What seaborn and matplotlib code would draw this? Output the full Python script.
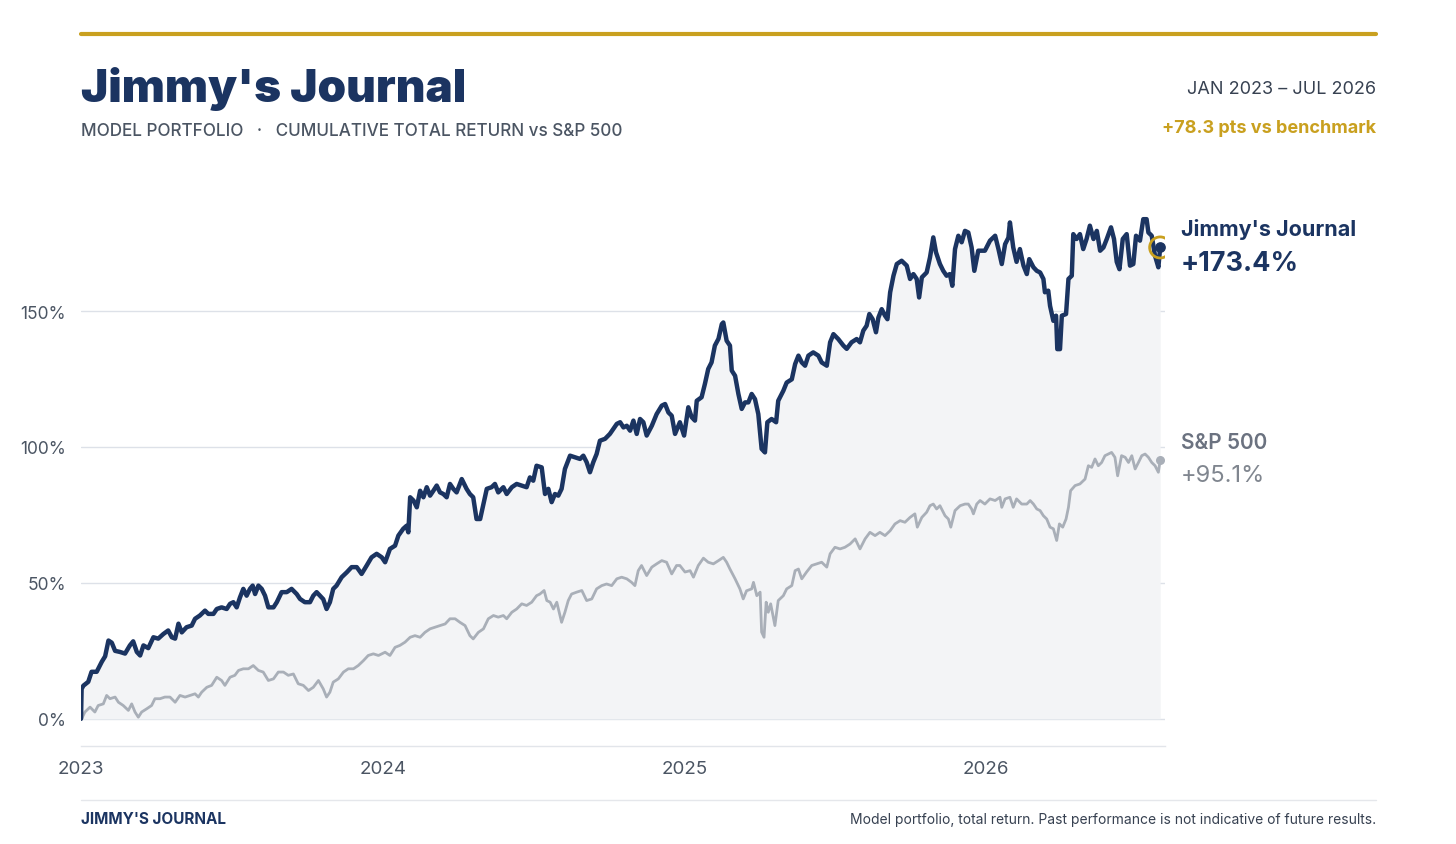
import numpy as np
import pandas as pd
import matplotlib
matplotlib.use("Agg")
import matplotlib.pyplot as plt
import seaborn as sns

# cumulative total return (%); time in years since 1 Jan 2023
jj_t = [0.000, 0.002, 0.008, 0.024, 0.035, 0.052, 0.069, 0.080, 0.091, 0.102, 0.113, 0.129, 0.146, 0.162,
        0.173, 0.185, 0.196, 0.207, 0.223, 0.240, 0.256, 0.273, 0.289, 0.301, 0.312, 0.323, 0.334, 0.350,
        0.367, 0.378, 0.394, 0.411, 0.422, 0.439, 0.450, 0.466, 0.483, 0.494, 0.505, 0.516, 0.527, 0.538,
        0.549, 0.560, 0.569, 0.577, 0.588, 0.599, 0.610, 0.621, 0.638, 0.649, 0.665, 0.682, 0.698, 0.715,
        0.726, 0.742, 0.759, 0.770, 0.781, 0.792, 0.803, 0.814, 0.825, 0.836, 0.847, 0.864, 0.881, 0.897,
        0.914, 0.930, 0.947, 0.963, 0.980, 0.997, 1.008, 1.024, 1.041, 1.052, 1.068, 1.079, 1.085, 1.091,
        1.102, 1.113, 1.124, 1.135, 1.146, 1.157, 1.168, 1.179, 1.190, 1.201, 1.212, 1.223, 1.234, 1.245,
        1.262, 1.278, 1.289, 1.300, 1.311, 1.323, 1.334, 1.345, 1.361, 1.372, 1.383, 1.400, 1.411, 1.428,
        1.444, 1.461, 1.477, 1.488, 1.499, 1.510, 1.527, 1.538, 1.549, 1.560, 1.571, 1.582, 1.593, 1.604,
        1.621, 1.637, 1.654, 1.665, 1.676, 1.687, 1.698, 1.709, 1.720, 1.737, 1.753, 1.764, 1.776, 1.787,
        1.798, 1.809, 1.820, 1.831, 1.842, 1.853, 1.864, 1.875, 1.892, 1.908, 1.925, 1.936, 1.947, 1.958,
        1.969, 1.985, 1.999, 2.013, 2.024, 2.035, 2.041, 2.057, 2.068, 2.079, 2.090, 2.101, 2.113, 2.124,
        2.129, 2.140, 2.151, 2.157, 2.168, 2.179, 2.190, 2.201, 2.212, 2.223, 2.234, 2.245, 2.256, 2.267,
        2.275, 2.289, 2.304, 2.311, 2.328, 2.339, 2.356, 2.367, 2.378, 2.389, 2.400, 2.411, 2.427, 2.444,
        2.455, 2.472, 2.483, 2.494, 2.510, 2.527, 2.538, 2.554, 2.571, 2.582, 2.593, 2.604, 2.613, 2.624,
        2.635, 2.643, 2.654, 2.665, 2.673, 2.682, 2.693, 2.704, 2.720, 2.737, 2.748, 2.759, 2.770, 2.778,
        2.787, 2.803, 2.814, 2.825, 2.834, 2.847, 2.858, 2.869, 2.880, 2.888, 2.897, 2.908, 2.919, 2.930,
        2.941, 2.952, 2.961, 2.974, 2.996, 3.013, 3.030, 3.041, 3.052, 3.063, 3.074, 3.079, 3.090, 3.101,
        3.112, 3.124, 3.135, 3.143, 3.157, 3.168, 3.179, 3.190, 3.195, 3.206, 3.212, 3.223, 3.232, 3.236,
        3.245, 3.251, 3.265, 3.273, 3.284, 3.289, 3.300, 3.311, 3.322, 3.333, 3.344, 3.356, 3.367, 3.378,
        3.389, 3.400, 3.414, 3.424, 3.433, 3.442, 3.453, 3.466, 3.477, 3.488, 3.497, 3.510, 3.521, 3.532,
        3.538, 3.549, 3.560, 3.571, 3.577]
jj_v = [0, 11, 12.2, 13.6, 17.3, 17.3, 21, 23, 28.8, 28, 25, 24.6, 24, 27,
        28.5, 24.6, 23.3, 27, 26, 30, 29.5, 31.2, 32.5, 30, 29.5, 35, 31.8, 33.7,
        34.3, 36.8, 38, 39.8, 38.6, 38.6, 40.4, 41, 40.4, 42.3, 42.9, 41, 44.7, 47.8,
        45.3, 47.8, 49, 45.9, 49, 47.8, 45.3, 41, 41, 42.9, 46.6, 46.6, 47.8, 45.9,
        44.1, 42.9, 42.9, 45.3, 46.6, 45.3, 44, 40.4, 42.9, 47.8, 49, 52.1, 53.9, 55.8,
        55.8, 53.3, 56.4, 59.4, 60.7, 59.4, 57.6, 62.5, 63.7, 67.4, 69.9, 71, 68.6, 81.5,
        80.3, 77.8, 83.9, 81.5, 85.2, 82.1, 83.9, 85.8, 83.3, 82.7, 81.5, 86.4, 84.6, 83.3,
        88.2, 84.6, 82.7, 81.5, 73.5, 73.5, 79, 84.6, 85.2, 86.4, 83.3, 85.2, 82.7, 85.2,
        86.4, 85.8, 85.2, 88.8, 87.6, 93.1, 92.5, 82.7, 84.6, 79.7, 82.7, 82.1, 84.6, 91.9,
        96.8, 96.2, 95.6, 96.8, 94.4, 90.7, 94.4, 97.4, 102.3, 103, 104.8, 106.6, 108.5, 109.1,
        107.2, 107.8, 106, 109.7, 104.8, 110.3, 109.1, 104.2, 107.8, 112.1, 115.2, 115.8, 112.7, 111.5,
        104.8, 109.1, 104.2, 114.6, 111, 109.7, 117, 118.3, 123.2, 128.7, 131.1, 137.3, 139.8, 145.2,
        145.8, 139.1, 137.3, 128.1, 126.2, 119.5, 114, 116.4, 116.4, 119.5, 117.6, 112.1, 99.3, 98,
        109.1, 110.3, 109.1, 117, 120.7, 123.7, 124.9, 130.5, 133.6, 131.1, 129.9, 133.6, 134.8, 133.6,
        131.1, 129.9, 138.5, 141.5, 139.7, 137.3, 136.1, 138.5, 139.7, 138.5, 142.8, 144.6, 148.9, 147,
        142.2, 147.6, 150.7, 148.3, 147, 156.9, 163, 167.3, 168.5, 166.7, 161.8, 163.6, 161.8, 155,
        162.4, 164.2, 169.7, 177.1, 171.6, 167.3, 164.8, 163, 163.6, 159.3, 172.8, 177.7, 175.3, 179.5,
        178.9, 173.4, 164.8, 172.2, 172.2, 175.9, 177.7, 172.8, 167.3, 174.6, 177, 182.6, 173.4, 168.1,
        172.8, 166.7, 163.6, 169.1, 166.1, 164.8, 164.2, 161.8, 156.9, 157.5, 151.9, 146.4, 148.3, 136,
        136, 148.3, 148.9, 161.8, 163, 178.3, 176.5, 178.3, 172.8, 176.5, 181.4, 176.5, 179.5, 172.2,
        173.4, 176.5, 180.8, 176.5, 168.1, 165.4, 176.5, 178.3, 166.7, 167.3, 177.7, 175.9, 183.8, 183.8,
        178.9, 177.7, 170.3, 166.1, 173.4]

sp_t = [0.000, 0.002, 0.013, 0.030, 0.046, 0.057, 0.074, 0.085, 0.096, 0.113, 0.124, 0.140, 0.157, 0.168,
        0.179, 0.190, 0.201, 0.218, 0.234, 0.245, 0.262, 0.278, 0.295, 0.312, 0.328, 0.345, 0.361, 0.378,
        0.389, 0.400, 0.417, 0.433, 0.450, 0.466, 0.477, 0.494, 0.510, 0.522, 0.538, 0.555, 0.571, 0.588,
        0.604, 0.621, 0.638, 0.654, 0.671, 0.687, 0.704, 0.720, 0.737, 0.754, 0.770, 0.787, 0.803, 0.814,
        0.825, 0.836, 0.853, 0.870, 0.886, 0.903, 0.919, 0.936, 0.952, 0.969, 0.986, 1.008, 1.024, 1.041,
        1.057, 1.074, 1.091, 1.107, 1.124, 1.140, 1.157, 1.173, 1.190, 1.207, 1.223, 1.240, 1.256, 1.273,
        1.289, 1.300, 1.317, 1.334, 1.350, 1.367, 1.383, 1.400, 1.411, 1.428, 1.444, 1.461, 1.477, 1.494,
        1.510, 1.521, 1.535, 1.544, 1.555, 1.566, 1.577, 1.593, 1.604, 1.615, 1.626, 1.643, 1.660, 1.676,
        1.693, 1.709, 1.726, 1.742, 1.759, 1.776, 1.792, 1.809, 1.825, 1.836, 1.847, 1.858, 1.875, 1.892,
        1.908, 1.925, 1.941, 1.958, 1.974, 1.985, 2.002, 2.019, 2.030, 2.046, 2.063, 2.079, 2.096, 2.113,
        2.129, 2.140, 2.151, 2.168, 2.184, 2.195, 2.206, 2.223, 2.229, 2.240, 2.251, 2.256, 2.264, 2.271,
        2.278, 2.286, 2.300, 2.311, 2.328, 2.339, 2.356, 2.367, 2.378, 2.389, 2.405, 2.422, 2.438, 2.455,
        2.472, 2.483, 2.499, 2.516, 2.532, 2.549, 2.566, 2.582, 2.599, 2.615, 2.632, 2.648, 2.665, 2.682,
        2.698, 2.715, 2.731, 2.748, 2.764, 2.772, 2.787, 2.803, 2.814, 2.825, 2.836, 2.847, 2.864, 2.875,
        2.883, 2.897, 2.914, 2.930, 2.941, 2.952, 2.958, 2.969, 2.980, 2.996, 3.013, 3.030, 3.046, 3.052,
        3.063, 3.079, 3.090, 3.101, 3.118, 3.135, 3.146, 3.157, 3.168, 3.179, 3.190, 3.201, 3.212, 3.223,
        3.234, 3.243, 3.254, 3.265, 3.273, 3.280, 3.295, 3.311, 3.328, 3.339, 3.350, 3.361, 3.372, 3.383,
        3.394, 3.405, 3.416, 3.427, 3.436, 3.449, 3.461, 3.472, 3.483, 3.494, 3.505, 3.516, 3.527, 3.538,
        3.549, 3.560, 3.571, 3.577]
sp_v = [0, 0, 2.5, 4.3, 2.5, 4.9, 5.5, 8.6, 7.4, 8, 6.1, 4.9, 3.1, 5.5,
        2.5, 0.6, 2.5, 3.7, 4.9, 7.4, 7.4, 8, 8, 6.1, 8.6, 8, 8.6, 9.2,
        8, 9.8, 11.6, 12.3, 15.3, 14.1, 12.3, 15.3, 16, 17.8, 18.4, 18.4, 19.6, 17.8,
        17.2, 14.1, 14.7, 17.2, 17.2, 16, 16.5, 12.9, 12.3, 10.4, 11.6, 14.1, 11, 8,
        9.8, 13.5, 14.7, 17.2, 18.4, 18.4, 19.6, 21.4, 23.3, 23.9, 23.3, 24.5, 23.3, 26.3,
        27, 28.2, 30, 30.6, 30, 31.8, 33.1, 33.7, 34.3, 34.9, 36.8, 36.8, 35.5, 34.3,
        30.6, 29.4, 31.8, 33.1, 36.8, 38, 37.4, 38, 36.8, 39.2, 40.4, 42.3, 41.7, 42.9,
        45.3, 45.9, 47.2, 43.5, 42.9, 40.4, 42.9, 35.5, 39.2, 43.5, 45.9, 46.6, 47.2, 43.5,
        44.1, 47.8, 49, 49.6, 49, 51.5, 52.1, 51.5, 50.2, 49, 54.5, 56.4, 52.7, 55.8,
        57, 58.2, 57.6, 53.3, 56.4, 56.4, 54, 54.5, 52.1, 56.4, 59.1, 57.6, 57, 58.2,
        59.4, 57.6, 55.1, 51.5, 47.8, 44.1, 47.1, 47.8, 50.2, 45.3, 46.6, 31.9, 30, 42.9,
        39.2, 42.3, 34.3, 43.5, 45.3, 47.8, 49, 54.5, 55.1, 51.5, 54, 56.4, 57, 57.6,
        55.8, 60.7, 63.1, 62.5, 63.1, 64.3, 66.2, 62.5, 66.2, 68.6, 67.4, 68.6, 67.4, 69.2,
        71.7, 72.9, 72.3, 74.1, 75.4, 70.5, 74.1, 76, 78.4, 79, 77.2, 78.4, 74.7, 73.5,
        70.5, 76.6, 78.4, 79, 79, 77.2, 75.4, 79, 80.3, 79, 80.9, 80.3, 81.5, 77.8,
        80.9, 81.5, 77.8, 80.9, 79, 79, 80.3, 79, 77.2, 76.6, 74.7, 73.5, 70.5, 69.9,
        65.6, 71.7, 70.5, 73.5, 77.8, 83.9, 85.8, 86.4, 88.2, 93.1, 92.5, 95.6, 93.1, 94.3,
        96.8, 97.4, 98, 96.2, 89.4, 96.8, 96.2, 94.3, 96.8, 91.9, 94.3, 96.8, 97.4, 96.2,
        94.3, 93.1, 90.7, 95.1]

year_ticks = [2023, 2024, 2025, 2026]
pct_ticks = [0, 50, 100, 150]
jj_final = 173.4
sp_final = 95.1

NAVY = "#1b3461"
GOLD = "#c9a01f"
GREY_LINE = "#a9afb8"
GREY_TXT = "#6b7280"

sns.set_theme(style="white")
plt.rcParams["font.family"] = ["Inter", "DejaVu Sans"]

jj = pd.DataFrame({"year": 2023 + np.array(jj_t), "ret": jj_v})
sp = pd.DataFrame({"year": 2023 + np.array(sp_t), "ret": sp_v})

fig = plt.figure(figsize=(14.56, 8.45), dpi=100)
ax = fig.add_axes([81 / 1456, 98 / 845, 1084 / 1456, 557 / 845])

ax.fill_between(jj["year"], 0, jj["ret"], color="#f3f4f6", lw=0, zorder=1)
for v in pct_ticks:
    ax.axhline(v, color="#dde1e8", lw=1, zorder=0)

sns.lineplot(data=sp, x="year", y="ret", ax=ax, color=GREY_LINE, lw=2.0,
             estimator=None, sort=False, zorder=3)
sns.lineplot(data=jj, x="year", y="ret", ax=ax, color=NAVY, lw=3.2,
             estimator=None, sort=False, zorder=4)

end_x = jj["year"].iloc[-1]
ax.scatter([end_x], [jj_final], s=230, facecolor="none", edgecolor=GOLD, lw=2, zorder=6)
ax.scatter([end_x], [jj_final], s=45, color=NAVY, zorder=7, clip_on=False)
ax.scatter([sp["year"].iloc[-1]], [sp_final], s=30, color=GREY_LINE, zorder=5, clip_on=False)

ax.set_xlim(2023, 2023 + 3.593)
ax.set_ylim(-10, 194.9)
ax.set_xticks(year_ticks)
ax.set_xticklabels([str(y) for y in year_ticks])
ax.set_yticks(pct_ticks)
ax.set_yticklabels([f"{v}%" for v in pct_ticks])
ax.tick_params(axis="y", length=0, pad=11, labelsize=12.5, labelcolor="#4b5563")
ax.tick_params(axis="x", length=0, pad=10, labelsize=13.5, labelcolor="#4b5563")
ax.set_xlabel("")
ax.set_ylabel("")
for s in ["top", "right", "left"]:
    ax.spines[s].set_visible(False)
ax.spines["bottom"].set_color("#e2e5ea")
ax.spines["bottom"].set_linewidth(1)

# end labels
lx = 1181 / 1456
fig.text(lx, 1 - 229 / 845, "Jimmy's Journal", color=NAVY, fontsize=15.5, fontweight="bold", va="center")
fig.text(lx, 1 - 264 / 845, f"+{jj_final}%", color=NAVY, fontsize=19.5, fontweight="bold", va="center")
fig.text(lx, 1 - 443 / 845, "S&P 500", color=GREY_TXT, fontsize=15, fontweight="semibold", va="center")
fig.text(lx, 1 - 476 / 845, f"+{sp_final}%", color="#80868f", fontsize=17, va="center")

# header
fig.add_artist(plt.Line2D([81 / 1456, 1376 / 1456], [1 - 35 / 845] * 2, color=GOLD, lw=3))
fig.text(81 / 1456, 1 - 89 / 845, "Jimmy's Journal", color=NAVY, fontsize=33, fontweight="black", va="center")
fig.text(81 / 1456, 1 - 131 / 845, "MODEL PORTFOLIO   \u00b7   CUMULATIVE TOTAL RETURN vs S&P 500",
         color="#4b5563", fontsize=12.3, fontweight="medium", va="center")
fig.text(1376 / 1456, 1 - 90 / 845, "JAN 2023 \u2013 JUL 2026", color="#374151", fontsize=13,
         ha="right", va="center")
fig.text(1376 / 1456, 1 - 129 / 845, f"+{jj_final - sp_final:.1f} pts vs benchmark", color=GOLD,
         fontsize=13, fontweight="bold", ha="right", va="center")

# footer
fig.add_artist(plt.Line2D([81 / 1456, 1376 / 1456], [1 - 801 / 845] * 2, color="#e5e7eb", lw=1))
fig.text(81 / 1456, 1 - 820 / 845, "JIMMY'S JOURNAL", color=NAVY, fontsize=11, fontweight="bold", va="center")
fig.text(1376 / 1456, 1 - 820 / 845,
         "Model portfolio, total return. Past performance is not indicative of future results.",
         color="#374151", fontsize=10, ha="right", va="center")

fig.savefig("out.png", dpi=100, facecolor="white")
